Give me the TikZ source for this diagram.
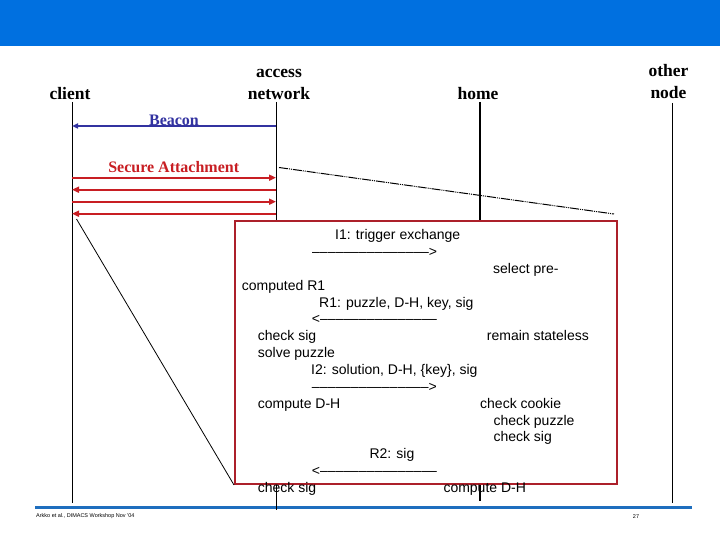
\documentclass[tikz,border=0pt]{standalone}
\usepackage{fontspec}
\setmainfont{Liberation Sans}
\newfontfamily\headfont{Liberation Serif}
\usepackage{tikz}
\usetikzlibrary{arrows.meta}
\definecolor{banner}{RGB}{0,112,224}
\definecolor{rulecol}{RGB}{30,110,190}
\definecolor{attach}{RGB}{200,30,35}
\definecolor{frame}{RGB}{172,32,42}
\definecolor{beacon}{RGB}{50,50,160}

\begin{document}
\begin{tikzpicture}[x=1pt, y=-1pt,
    party/.style={font=\headfont\bfseries\fontsize{17.5}{21.7}\selectfont, align=center, anchor=south, inner sep=0pt},
    tag/.style={font=\headfont\bfseries\fontsize{16}{18}\selectfont, anchor=south, inner sep=0pt},
    msg/.style={line width=2pt, attach, -{Triangle[length=7pt, width=6pt]}},
    txt/.style={font=\fontsize{14}{16}\selectfont, anchor=base west, inner sep=0pt},
    foot/.style={font=\fontsize{5.5}{6}\selectfont, inner sep=0pt}]

    \useasboundingbox (0,0) rectangle (720,540);
    \fill[banner] (0,0) rectangle (720,46);
    \draw[rulecol, line width=2.5pt] (35,507.5) -- (692,507.5);

    % parties
    \node[party] (client) at (70,99.5) {client};
    \node[party] (access) at (279,100) {access\\network};
    \node[party] (home) at (478,99.5) {home};
    \node[party] (other) at (668.5,98.5) {other\\node};

    % lifelines
    \foreach \name/\x/\ya/\yb in {cl/72/102/503, an/276/102/510, on/672/103/503} {
            \coordinate (\name) at (\x,\ya);
            \coordinate (\name end) at (\x,\yb);
            \draw[line width=1pt] (\name) -- (\name end);
        }
    \coordinate (hm) at (480,102);
    \coordinate (hm end) at (480,501);
    \draw[line width=1.8pt] (hm) -- (hm end);

    % beacon
    \draw[line width=1.5pt, beacon, -{Triangle[length=6pt, width=5pt]}] (an |- 0,126) -- (cl |- 0,126);
    \node[tag, beacon] (beaconlbl) at (174,125.5) {Beacon};

    % secure attachment
    \node[tag, attach] (attachlbl) at (173.7,173.3) {Secure Attachment};
    \foreach \y/\from/\to in {177.7/cl/an, 189.7/an/cl, 201.7/cl/an, 213.7/an/cl}
    \draw[msg] (\from |- 0,\y) -- (\to |- 0,\y);

    % zoom lines and exchange box
    \coordinate (zoomA) at (279,167.5);
    \coordinate (zoomB) at (614,214);
    \coordinate (zoomC) at (76.5,219);
    \draw[line width=1pt, dash pattern=on 9pt off 1pt on 1pt off 1pt on 1pt off 1pt] (zoomA) -- (zoomB);
    \node[draw=frame, line width=2pt, fill=white, minimum width=382pt, minimum height=263pt,
        anchor=north west, inner sep=0pt] (exch) at (234,220) {};
    \draw[line width=0.8pt] (zoomC) -- (exch.south west);

    \node[txt] (i1) at (335,239.5) {I1: trigger exchange};
    \node[txt] (i1arr) at (312,256.4) {–––––––––––––––>};
    \node[txt] (sel) at (493,273.2) {select pre-};
    \node[txt] (comp) at (241.7,290.1) {computed R1};
    \node[txt] (r1) at (319,307.0) {R1: puzzle, D-H, key, sig};
    \node[txt] (r1arr) at (311.7,323.9) {<–––––––––––––––};
    \node[txt] (chk1) at (257.7,340.7) {check sig};
    \node[txt] (stateless) at (486.7,340.7) {remain stateless};
    \node[txt] (solve) at (257.7,357.6) {solve puzzle};
    \node[txt] (i2) at (311,374.5) {I2: solution, D-H, \{key\}, sig};
    \node[txt] (i2arr) at (311.7,391.3) {–––––––––––––––>};
    \node[txt] (dh1) at (257.7,408.2) {compute D-H};
    \node[txt] (cookie) at (480,408.2) {check cookie};
    \node[txt] (puzzle) at (493.3,425.1) {check puzzle};
    \node[txt] (chk2) at (493.3,441.9) {check sig};
    \node[txt] (r2) at (369.3,458.8) {R2: sig};
    \node[txt] (r2arr) at (311.7,475.7) {<–––––––––––––––};
    \node[txt] (chk3) at (257.7,492.6) {check sig};
    \node[txt] (dh2) at (443.3,492.6) {compute D-H};

    % footer
    \node[foot, anchor=west] (credit) at (36,516) {Arkko et al., DIMACS Workshop Nov '04};
    \node[foot] (page) at (636,517) {27};

\end{tikzpicture}
\end{document}
